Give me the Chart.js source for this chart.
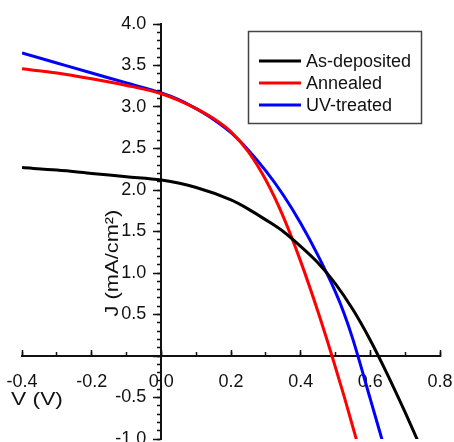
<!DOCTYPE html>
<html>
<head>
<meta charset="utf-8">
<title>J-V curves</title>
<script src="https://cdn.jsdelivr.net/npm/chart.js@4.4.1/dist/chart.umd.min.js"></script>
<style>
  html, body { margin: 0; padding: 0; background: #fff; }
  #wrap { position: relative; width: 454px; height: 442px; }
</style>
</head>
<body>
<div id="wrap"><canvas id="jvChart"></canvas></div>
<script>
// Series: V in volts, J in mA/cm2
const seriesNames = ['As-deposited', 'Annealed', 'UV-treated'];
const seriesColors = ['#000000', '#ff0000', '#0000ff'];

const vAsDeposited = [-0.4, -0.3, -0.2, -0.1, 0.0, 0.1, 0.2, 0.25, 0.3, 0.35, 0.4, 0.45, 0.5, 0.55, 0.6, 0.65, 0.7, 0.735];
const jAsDeposited = [2.27, 2.24, 2.20, 2.16, 2.12, 2.03, 1.88, 1.77, 1.64, 1.50, 1.32, 1.12, 0.87, 0.56, 0.19, -0.23, -0.68, -1.01];

const vAnnealed = [-0.4, -0.3, -0.2, -0.1, 0.0, 0.05, 0.1, 0.15, 0.2, 0.25, 0.3, 0.35, 0.4, 0.45, 0.49, 0.525, 0.565];
const jAnnealed = [3.46, 3.41, 3.34, 3.26, 3.16, 3.08, 2.98, 2.86, 2.70, 2.46, 2.12, 1.68, 1.14, 0.53, 0.0, -0.49, -1.08];

const vUvTreated = [-0.4, -0.3, -0.2, -0.1, 0.0, 0.05, 0.1, 0.15, 0.2, 0.25, 0.3, 0.35, 0.4, 0.45, 0.5, 0.525, 0.55, 0.6, 0.64];
const jUvTreated = [3.65, 3.53, 3.41, 3.29, 3.17, 3.09, 2.98, 2.85, 2.69, 2.48, 2.23, 1.94, 1.60, 1.21, 0.77, 0.51, 0.20, -0.52, -1.10];

// Axis ranges and tick steps
const xRange = [-0.4, 0.8];
const yRange = [-1.0, 4.0];
const xMajorStep = 0.2, xMinorStep = 0.1;
const yMajorStep = 0.5, yMinorStep = 0.1;

const fontFamily = "'Liberation Sans', Arial, sans-serif";
const tickFont = { family: fontFamily, size: 18 };

function toPoints(vs, js) {
	return vs.map((v, i) => ({ x: v, y: js[i] }));
}

// Axes sit on the zero lines, so they must not eat layout space
function noLayoutSpace(scale) {
	if (scale.isHorizontal()) scale.height = 0;
	else scale.width = 0;
	scale.paddingLeft = scale.paddingRight = 0;
	scale.paddingTop = scale.paddingBottom = 0;
}

function axis(which, range, step, tickLen, showLabels, extra) {
	return {
		type: 'linear',
		axis: which,
		min: range[0],
		max: range[1],
		position: which === 'x' ? { y: 0 } : { x: 0 },
		afterFit: noLayoutSpace,
		ticks: {
			display: showLabels,
			stepSize: step,
			autoSkip: false,
			color: '#111',
			font: tickFont,
			...extra
		},
		grid: {
			drawOnChartArea: false,
			tickLength: tickLen,
			tickWidth: 1.5,
			tickColor: '#111'
		},
		border: { display: showLabels, color: '#111', width: 2 }
	};
}

// Axis titles and the boxed legend
const extrasPlugin = {
	id: 'jvExtras',
	afterDraw(chart) {
		const ctx = chart.ctx;
		ctx.save();
		ctx.fillStyle = '#111';
		ctx.font = '19px ' + fontFamily;

		ctx.save();
		ctx.translate(113, 263);
		ctx.rotate(-Math.PI / 2);
		ctx.scale(1.15, 1);
		ctx.textAlign = 'center';
		ctx.textBaseline = 'middle';
		ctx.fillText('J (mA/cm\u00B2)', 0, 0);
		ctx.restore();

		ctx.save();
		ctx.translate(11, 400);
		ctx.scale(1.2, 1);
		ctx.textAlign = 'left';
		ctx.textBaseline = 'middle';
		ctx.fillText('V (V)', 0, 0);
		ctx.restore();

		// legend
		ctx.strokeStyle = '#444';
		ctx.lineWidth = 1.5;
		ctx.strokeRect(248.5, 31.5, 173, 92);
		ctx.font = '18px ' + fontFamily;
		ctx.textAlign = 'left';
		ctx.textBaseline = 'middle';
		chart.data.datasets.forEach((ds, i) => {
			const y = 61 + i * 22;
			ctx.strokeStyle = ds.borderColor;
			ctx.lineWidth = 3;
			ctx.beginPath();
			ctx.moveTo(259, y);
			ctx.lineTo(301, y);
			ctx.stroke();
			ctx.fillStyle = '#111';
			ctx.fillText(ds.label, 306, y + 1);
		});
		ctx.restore();
	}
};

window.onload = () => {
	const vs = [vAsDeposited, vAnnealed, vUvTreated];
	const js = [jAsDeposited, jAnnealed, jUvTreated];

	const datasets = seriesNames.map((name, i) => ({
		label: name,
		data: toPoints(vs[i], js[i]),
		borderColor: seriesColors[i],
		backgroundColor: seriesColors[i],
		borderWidth: 3,
		pointRadius: 0,
		fill: false,
		cubicInterpolationMode: 'monotone'
	}));

	new Chart(document.getElementById('jvChart'), {
		type: 'line',
		data: { datasets: datasets },
		options: {
			responsive: true,
			maintainAspectRatio: false,
			animation: false,
			layout: { padding: { left: 22, right: 14, top: 24, bottom: 3 } },
			plugins: { legend: { display: false }, tooltip: { enabled: false } },
			scales: {
				x: axis('x', xRange, xMajorStep, -7, true, {
					padding: 22,
					callback: v => v.toFixed(1)
				}),
				xMinor: axis('x', xRange, xMinorStep, -4, false),
				y: axis('y', yRange, yMajorStep, 7, true, {
					callback: v => Math.abs(v) < 1e-9 ? '' : v.toFixed(1) + '   '
				}),
				yMinor: axis('y', yRange, yMinorStep, 4, false)
			}
		},
		plugins: [extrasPlugin]
	});
};
</script>
</body>
</html>
